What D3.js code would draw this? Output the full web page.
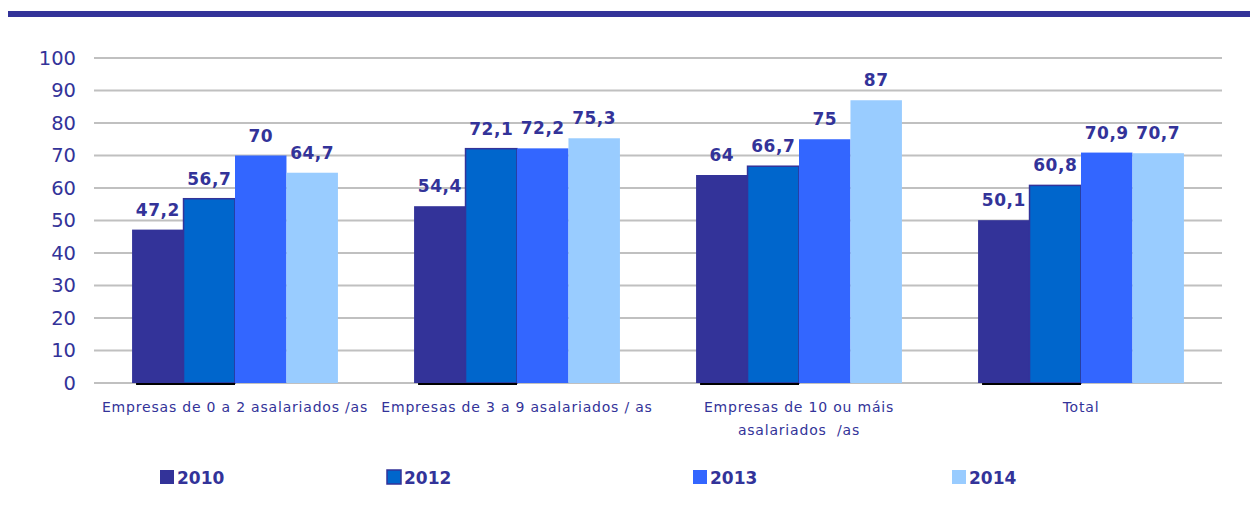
<!DOCTYPE html>
<html><head><meta charset="utf-8">
<script src="https://cdn.jsdelivr.net/npm/d3@7"></script>
<style>body{margin:0;background:#fff}svg{display:block}text{font-family:"DejaVu Sans",Verdana,sans-serif}</style>
</head><body><svg id="c" width="1250" height="518"></svg>
<script>
const categories = [["Empresas de 0 a 2 asalariados /as"],["Empresas de 3 a 9 asalariados / as"],["Empresas de 10 ou máis","asalariados  /as"],["Total"]];
const seriesNames = ["2010","2012","2013","2014"];
const v2010 = [47.2, 54.4, 64, 50.1];
const v2012 = [56.7, 72.1, 66.7, 60.8];
const v2013 = [70, 72.2, 75, 70.9];
const v2014 = [64.7, 75.3, 87, 70.7];
const yTicks = [0,10,20,30,40,50,60,70,80,90,100];
const colors = ["#333399","#0066CC","#3366FF","#99CCFF"];
const seriesValues = [v2010, v2012, v2013, v2014];

const svg = d3.select("#c");
const ink = "#333399";
svg.append("rect").attr("x",8).attr("y",11).attr("width",1242).attr("height",6).attr("fill",ink);

const x0 = d3.scaleBand().domain(d3.range(categories.length)).range([94,1222]).paddingInner(0.27).paddingOuter(0.135);
const x1 = d3.scaleBand().domain(seriesNames).range([0,x0.bandwidth()]);
const y = d3.scaleLinear().domain([0,100]).range([383,58]);

// gridlines
svg.append("g").selectAll("line").data(yTicks).join("line")
  .attr("x1",94).attr("x2",1222).attr("y1",d=>y(d)).attr("y2",d=>y(d))
  .attr("stroke","#c0c0c0").attr("stroke-width",2);

// y axis labels
const ya = svg.append("g").attr("transform","translate(94,0)")
  .call(d3.axisLeft(y).tickValues(yTicks).tickSize(0).tickPadding(18).tickFormat(d3.format("d")));
ya.select(".domain").remove();
ya.selectAll("text").attr("fill",ink).style("font-size","19.5px").style("font-family","DejaVu Sans, Verdana, sans-serif");

// bars
const groups = svg.append("g").selectAll("g").data(categories).join("g")
  .attr("transform",(d,i)=>`translate(${x0(i)},0)`);
groups.each(function(d,i){
  const g = d3.select(this);
  seriesNames.forEach((s,j)=>{
    const v = seriesValues[j][i];
    g.append("rect").attr("x",x1(s)).attr("y",y(v)).attr("width",x1.bandwidth()).attr("height",y(0)-y(v))
      .attr("fill",colors[j]).attr("stroke", j===1? ink : "none").attr("stroke-width",j===1?1.5:0);
  });
  g.append("line").attr("x1",x1("2010")+4).attr("x2",x1("2012")+x1.bandwidth()).attr("y1",y(0)+1).attr("y2",y(0)+1)
    .attr("stroke","#000").attr("stroke-width",2);
  seriesNames.forEach((s,j)=>{
    const v = seriesValues[j][i];
    g.append("text").attr("x",x1(s)+x1.bandwidth()/2).attr("y",y(v)-14).attr("text-anchor","middle")
      .attr("fill",ink).style("font-size","17px").style("font-weight","bold").style("letter-spacing","0.5px")
      .text(String(v).replace(".",","));
  });
  const t = g.append("text").attr("x",x0.bandwidth()/2).attr("y",412).attr("text-anchor","middle").attr("fill",ink)
    .style("font-size","14px").style("letter-spacing","0.8px");
  d.forEach((line,k)=>t.append("tspan").attr("x",x0.bandwidth()/2).attr("dy",k?23:0).attr("xml:space","preserve").text(line));
});

// legend
const legX = [160,387,693,952];
const leg = svg.append("g").selectAll("g").data(seriesNames).join("g").attr("transform",(d,i)=>`translate(${legX[i]},470)`);
leg.append("rect").attr("width",14).attr("height",14).attr("fill",(d,i)=>colors[i]).attr("stroke",(d,i)=>i===1?ink:"none").attr("stroke-width",1.5);
leg.append("text").attr("x",17).attr("y",14).attr("fill",ink).style("font-size","17px").style("font-weight","bold").text(d=>d);
</script></body></html>
